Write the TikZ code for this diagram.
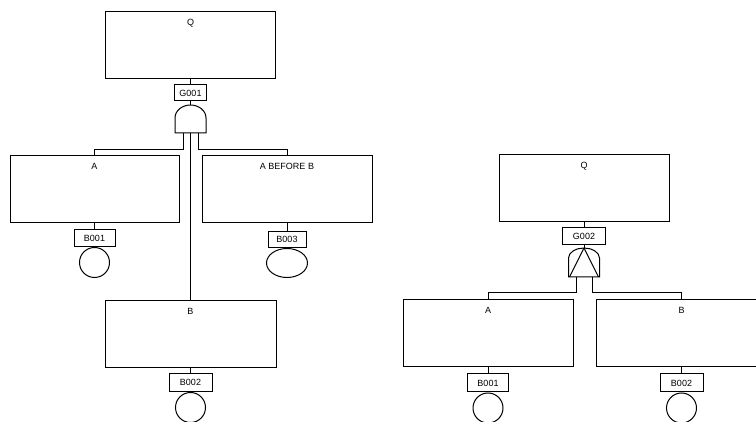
\documentclass[tikz,border=0pt]{standalone}
\usepackage{fontspec}
\setmainfont{Liberation Sans}
\usetikzlibrary{shapes.geometric}
\begin{document}
\begin{tikzpicture}[x=1pt,y=-1pt,line width=1pt,
  ev/.style={draw, rectangle, minimum width=170pt, minimum height=67pt, inner sep=0pt,
     label={[anchor=north, yshift=-7.5pt, font=\fontsize{9}{10}\selectfont, inner sep=0pt]north:#1}},
  lbl/.style={draw, rectangle, minimum width=41pt, minimum height=17pt, inner sep=0pt, font=\fontsize{9}{10}\selectfont},
  basic/.style={draw, circle, minimum size=30pt, inner sep=0pt},
  undev/.style={draw, ellipse, minimum width=41pt, minimum height=29pt, inner sep=0pt}]
\useasboundingbox (0,0) rectangle (756,422);

% ---------- left tree ----------
\node[ev=Q] (q1) at (190.5,45.5) {};
\node[lbl, minimum width=32pt, minimum height=16pt] (g1) at (190.5,93) {G001};
\coordinate (g1t) at (190.5,105);
\draw (g1t) .. controls (198,105) and (206,110) .. ++(15.5,13) -- ++(0,15) -- ++(-31,0) -- ++(0,-15)
   .. controls (175,110) and (183,105) .. (g1t);
\coordinate (g1l) at (183,133);
\coordinate (g1m) at (190.5,133);
\coordinate (g1r) at (198,133);

\node[ev=A, minimum width=169pt] (a1) at (94.5,189.5) {};
\node[ev=A BEFORE B] (abb) at (287,189.5) {};
\node[ev=B, minimum width=171pt] (b1) at (190.5,334.5) {};

\node[lbl] (b001a) at (94.5,238) {B001};
\node[basic, anchor=north] (c001a) at (b001a.south) {};
\node[lbl, minimum width=38pt, minimum height=16pt] (b003) at (287,239.5) {B003};
\node[undev, anchor=north] (c003) at (b003.south) {};
\node[lbl, minimum width=43pt, minimum height=18pt] (b002a) at (190.5,382.5) {B002};
\node[basic, anchor=north] (c002a) at (b002a.south) {};

\draw (q1.south) -- (g1.north);
\draw (g1.south) -- (g1t);
\draw (g1l) -- ++(0,17) -| (a1.north);
\draw (g1r) -- ++(0,17) -| (abb.north);
\draw (g1m) -- (b1.north);
\draw (a1.south) -- (b001a.north);
\draw (abb.south) -- (b003.north);
\draw (b1.south) -- (b002a.north);

% ---------- right tree ----------
\node[ev=Q] (q2) at (584,188) {};
\node[lbl, minimum width=43pt] (g2) at (584,236.5) {G002};
\coordinate (g2t) at (584,248);
\draw (g2t) .. controls (591.5,248) and (599.5,252) .. ++(15.5,10) -- ++(0,19) -- ++(-31,0) -- ++(0,-19)
   .. controls (568.5,252) and (576.5,248) .. (g2t);
\draw (g2t) -- (569.5,277);
\draw (g2t) -- (598.5,277);
\coordinate (g2l) at (576.5,277);
\coordinate (g2r) at (592,277);

\node[ev=A] (a2) at (488,333) {};
\node[ev=B, minimum width=171pt] (b2) at (681.5,333.5) {};

\node[lbl, minimum height=18pt] (b001b) at (488,383) {B001};
\node[basic, anchor=north] (c001b) at (b001b.south) {};
\node[lbl, minimum width=43pt, minimum height=18pt] (b002b) at (681.5,383) {B002};
\node[basic, anchor=north] (c002b) at (b002b.south) {};

\draw (q2.south) -- (g2.north);
\draw (g2.south) -- (g2t);
\draw (g2l) -- ++(0,16) -| (a2.north);
\draw (g2r) -- ++(0,16) -| (b2.north);
\draw (a2.south) -- (b001b.north);
\draw (b2.south) -- (b002b.north);
\end{tikzpicture}
\end{document}
